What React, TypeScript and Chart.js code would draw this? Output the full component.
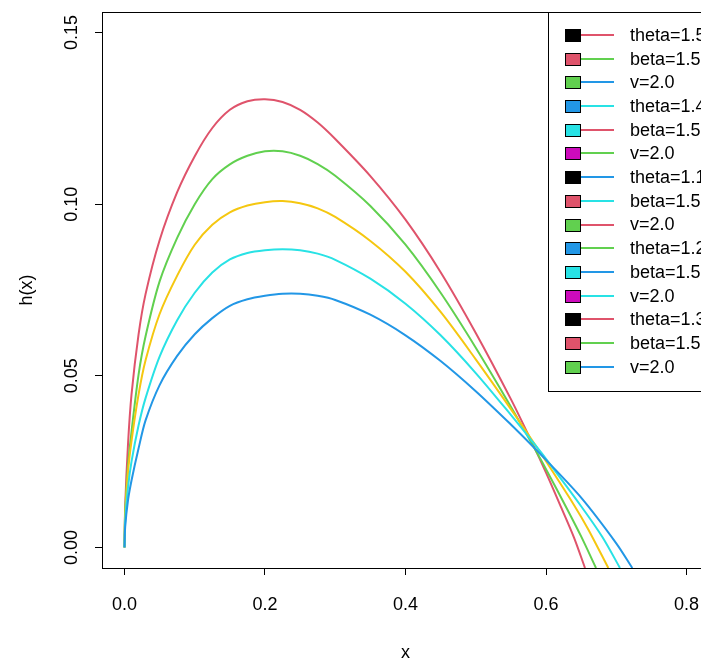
import React, { useEffect, useRef } from "react";
import { Chart, registerables } from "chart.js";

Chart.register(...registerables);

// ---- data ----
const xGrid = [0, 0.001, 0.005, 0.01, 0.02, 0.03, 0.05, 0.075, 0.1, 0.125, 0.15, 0.175, 0.2, 0.225, 0.25, 0.275, 0.3, 0.35, 0.4, 0.45, 0.5, 0.55, 0.58, 0.6];

const hRed = [0, 0.012, 0.03, 0.0445, 0.062, 0.0738, 0.0895, 0.1035, 0.114, 0.1222, 0.1275, 0.13, 0.1306, 0.1298, 0.1275, 0.1238, 0.119, 0.1082, 0.0955, 0.0802, 0.0625, 0.0432, 0.0306, 0.0218];
const xRedTail = [0.62, 0.64, 0.6555];
const hRedTail = [0.0124, 0.0028, -0.006];

const hGreen = [0, 0.0105, 0.0238, 0.0337, 0.0503, 0.0615, 0.0775, 0.0902, 0.1, 0.1073, 0.1116, 0.1141, 0.1154, 0.1154, 0.1141, 0.1117, 0.1083, 0.0995, 0.0882, 0.0742, 0.0582, 0.041, 0.0302, 0.0228];
const xGreenTail = [0.63, 0.65, 0.6712];
const hGreenTail = [0.0112, 0.0032, -0.006];

const hGold = [0, 0.009, 0.022, 0.031, 0.0445, 0.0545, 0.068, 0.0792, 0.0882, 0.094, 0.0976, 0.0996, 0.1006, 0.1009, 0.1003, 0.0988, 0.0963, 0.0893, 0.0803, 0.0686, 0.0548, 0.0403, 0.0313, 0.0251];
const xGoldTail = [0.64, 0.66, 0.6887];
const hGoldTail = [0.0123, 0.0053, -0.006];

const hCyan = [0, 0.0078, 0.0175, 0.025, 0.0355, 0.0435, 0.0556, 0.0662, 0.0742, 0.0801, 0.0839, 0.0858, 0.0866, 0.0869, 0.0866, 0.0856, 0.0838, 0.0783, 0.071, 0.0618, 0.0508, 0.0386, 0.031, 0.0258];
const xCyanTail = [0.65, 0.68, 0.7053];
const hCyanTail = [0.012, 0.0031, -0.006];

const hBlue = [0, 0.006, 0.0137, 0.0195, 0.0288, 0.037, 0.0473, 0.0558, 0.0621, 0.0668, 0.0704, 0.0723, 0.0733, 0.0739, 0.0739, 0.0733, 0.0721, 0.0678, 0.0618, 0.0543, 0.0455, 0.0358, 0.0297, 0.0255];
const xBlueTail = [0.65, 0.7, 0.7229];
const hBlueTail = [0.0145, 0.0012, -0.006];

const xTicks = [0, 0.2, 0.4, 0.6, 0.8];
const yTicks = [0, 0.05, 0.1, 0.15];

const legendLabels = ["theta=1.5", "beta=1.5", "v=2.0", "theta=1.4", "beta=1.5", "v=2.0", "theta=1.1", "beta=1.5", "v=2.0", "theta=1.2", "beta=1.5", "v=2.0", "theta=1.3", "beta=1.5", "v=2.0"];
const legendFill = ["#000000", "#DF536B", "#61D04F", "#2297E6", "#28E2E5", "#CD0BBC", "#000000", "#DF536B", "#61D04F", "#2297E6", "#28E2E5", "#CD0BBC", "#000000", "#DF536B", "#61D04F"];
const legendLine = ["#DF536B", "#61D04F", "#2297E6", "#28E2E5", "#DF536B", "#61D04F", "#2297E6", "#28E2E5", "#DF536B", "#61D04F", "#2297E6", "#28E2E5", "#DF536B", "#61D04F", "#2297E6"];

const FONT = "'Liberation Sans', Arial, sans-serif";
const FS = 18;

function pts(xs: number[], ys: number[], xt: number[], yt: number[]) {
  const a = xs.map((x, i) => ({ x, y: ys[i] }));
  return a.concat(xt.map((x, i) => ({ x, y: yt[i] })));
}

const boxAndLegend = {
  id: "boxAndLegend",
  afterDraw(chart: any) {
    const { ctx, chartArea } = chart;
    const { left, top, right, bottom } = chartArea;
    ctx.save();
    ctx.strokeStyle = "#000";
    ctx.lineWidth = 1;
    ctx.strokeRect(Math.round(left) + 0.5, Math.round(top) + 0.5, Math.round(right - left), Math.round(bottom - top));

    // legend (topright)
    const lw = 161;
    const lh = 379;
    const lx = Math.round(right) - lw;
    const ly = Math.round(top);
    ctx.fillStyle = "#fff";
    ctx.fillRect(lx, ly, lw, lh);
    ctx.strokeRect(lx + 0.5, ly + 0.5, lw, lh);
    const step = 23.69;
    ctx.font = `${FS}px ${FONT}`;
    ctx.textBaseline = "middle";
    ctx.textAlign = "left";
    legendLabels.forEach((lab, i) => {
      const cy = ly + 23 + i * step;
      ctx.lineWidth = 2;
      ctx.strokeStyle = legendLine[i];
      ctx.beginPath();
      ctx.moveTo(lx + 32, Math.round(cy));
      ctx.lineTo(lx + 66, Math.round(cy));
      ctx.stroke();
      ctx.fillStyle = legendFill[i];
      ctx.fillRect(lx + 17, Math.round(cy) - 6, 15, 12);
      ctx.lineWidth = 1;
      ctx.strokeStyle = "#000";
      ctx.strokeRect(lx + 17.5, Math.round(cy) - 5.5, 15, 12);
      ctx.fillStyle = "#000";
      ctx.fillText(lab, lx + 82, cy + 1);
    });
    ctx.restore();
  },
};

export default function App() {
  const ref = useRef<HTMLCanvasElement | null>(null);
  useEffect(() => {
    if (!ref.current) return;
    const mk = (label: string, color: string, data: any[]) => ({
      label,
      data,
      borderColor: color,
      backgroundColor: color,
      borderWidth: 2,
      pointRadius: 0,
      tension: 0.3,
      fill: false,
    });
    const font = { family: FONT, size: FS };
    const chart = new Chart(ref.current, {
      type: "line",
      data: {
        datasets: [
          mk("blue", "#2297E6", pts(xGrid, hBlue, xBlueTail, hBlueTail)),
          mk("cyan", "#28E2E5", pts(xGrid, hCyan, xCyanTail, hCyanTail)),
          mk("gold", "#F5C710", pts(xGrid, hGold, xGoldTail, hGoldTail)),
          mk("green", "#61D04F", pts(xGrid, hGreen, xGreenTail, hGreenTail)),
          mk("red", "#DF536B", pts(xGrid, hRed, xRedTail, hRedTail)),
        ],
      },
      options: {
        animation: false,
        responsive: false,
        devicePixelRatio: 1,
        layout: { padding: { left: 0, top: 12, right: 21, bottom: 0 } },
        plugins: { legend: { display: false }, tooltip: { enabled: false } },
        scales: {
          x: {
            type: "linear",
            min: -0.032,
            max: 0.832,
            afterBuildTicks: (s: any) => {
              s.ticks = xTicks.map((v) => ({ value: v }));
            },
            afterFit: (s: any) => {
              s.height = 94;
              s.paddingLeft = 0;
              s.paddingRight = 0;
            },
            grid: { drawOnChartArea: false, drawTicks: true, tickLength: 7, color: "#000", lineWidth: 1 },
            border: { display: false },
            ticks: {
              color: "#000",
              font,
              padding: 19,
              maxRotation: 0,
              minRotation: 0,
              autoSkip: false,
              callback: (v: any) => Number(v).toFixed(1),
            },
            title: { display: true, text: "x", color: "#000", font, padding: { top: 0, bottom: -2 } },
          },
          y: {
            type: "linear",
            min: -0.006,
            max: 0.156,
            afterBuildTicks: (s: any) => {
              s.ticks = yTicks.map((v) => ({ value: v }));
            },
            afterFit: (s: any) => {
              s.width = 102;
              s.paddingTop = 0;
              s.paddingBottom = 0;
            },
            grid: { drawOnChartArea: false, drawTicks: true, tickLength: 7, color: "#000", lineWidth: 1 },
            border: { display: false },
            ticks: {
              color: "#000",
              font,
              padding: 5,
              minRotation: 90,
              maxRotation: 90,
              crossAlign: "center",
              autoSkip: false,
              callback: (v: any) => Number(v).toFixed(2),
            },
            title: { display: true, text: "h(x)", color: "#000", font, padding: { top: 16, bottom: 0 } },
          },
        },
      },
      plugins: [boxAndLegend],
    } as any);
    return () => chart.destroy();
  }, []);
  return (
    <div style={{ position: "fixed", left: 0, top: 0, width: 701, height: 662, overflow: "hidden", background: "#fff" }}>
      <canvas ref={ref} width={730} height={662} style={{ display: "block", width: 730, height: 662 }} />
    </div>
  );
}
